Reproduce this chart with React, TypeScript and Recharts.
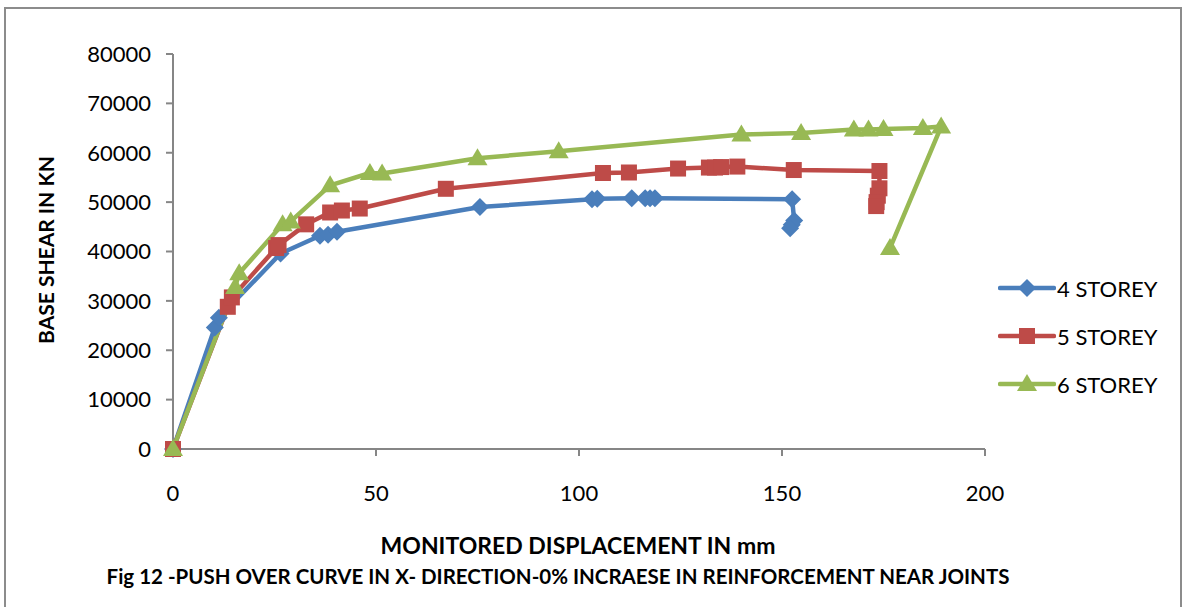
import { Line, LineChart, XAxis, YAxis } from "recharts";

// displacement (mm) and base shear (kN)
const storey4X = [0, 10.3, 11.3, 26.5, 36.2, 38.2, 40.4, 75.6, 103.2, 104.5, 113, 116.3, 117.5, 118.7, 152.5, 153, 152.4, 152];
const storey4Y = [0, 24600, 26600, 39600, 43200, 43400, 44000, 49000, 50600, 50700, 50800, 50800, 50800, 50800, 50600, 46300, 45400, 44700];

const storey5X = [0, 13.5, 14.5, 25.4, 26, 32.8, 38.7, 41.6, 46, 67.2, 105.9, 112.3, 124.4, 132, 133.5, 135, 139, 152.9, 174, 174, 173.6, 173.3, 173.2];
const storey5Y = [0, 28800, 30700, 40700, 41300, 45500, 47900, 48300, 48700, 52700, 55900, 56000, 56800, 57000, 57000, 57100, 57200, 56500, 56300, 52800, 51300, 50000, 49200];

const storey6X = [0, 15.3, 16.3, 27, 29, 38.7, 48.5, 51.5, 75, 95, 140, 154.7, 167.7, 171.3, 175, 184.7, 189.2, 176.6];
const storey6Y = [0, 32800, 35600, 45500, 46100, 53400, 55900, 55800, 58900, 60300, 63700, 64000, 64700, 64700, 64800, 65000, 65300, 40700];

const xTicks = [0, 50, 100, 150, 200];
const yTicks = [0, 10000, 20000, 30000, 40000, 50000, 60000, 70000, 80000];

const seriesNames = ["4 STOREY", "5 STOREY", "6 STOREY"];
const seriesColors = ["#4A7EBB", "#BE4B48", "#98B954"];
const seriesShapes = ["diamond", "square", "triangle"];

const toPoints = (xs: number[], ys: number[]) => xs.map((x, i) => ({ x, y: ys[i] }));
const seriesData = [
  toPoints(storey4X, storey4Y),
  toPoints(storey5X, storey5Y),
  toPoints(storey6X, storey6Y),
];

const font = "Lato, 'Open Sans', sans-serif";

function Marker({ shape, cx, cy, fill }: { shape: string; cx: number; cy: number; fill: string }) {
  if (shape === "diamond") {
    const r = 9;
    return <path d={`M${cx},${cy - r}L${cx + r},${cy}L${cx},${cy + r}L${cx - r},${cy}Z`} fill={fill} />;
  }
  if (shape === "square") {
    const s = 8;
    return <rect x={cx - s} y={cy - s} width={s * 2} height={s * 2} fill={fill} />;
  }
  return <path d={`M${cx},${cy - 10}L${cx + 10},${cy + 7}L${cx - 10},${cy + 7}Z`} fill={fill} />;
}

function makeDot(shape: string, fill: string) {
  return (props: any) => {
    const { cx, cy, index } = props;
    if (cx == null || cy == null) return <g key={index} />;
    return <Marker key={index} shape={shape} cx={cx} cy={cy} fill={fill} />;
  };
}

function LegendBox() {
  return (
    <div style={{ fontFamily: font, fontSize: 22, color: "#000" }}>
      {seriesNames.map((name, i) => (
        <div key={name} style={{ display: "flex", alignItems: "center", height: 48 }}>
          <svg width={58} height={24}>
            <line x1={2} y1={12} x2={56} y2={12} stroke={seriesColors[i]} strokeWidth={4.5} strokeLinecap="round" />
            <Marker shape={seriesShapes[i]} cx={29} cy={12} fill={seriesColors[i]} />
          </svg>
          <span style={{ marginLeft: 1 }}>{name}</span>
        </div>
      ))}
    </div>
  );
}

export default function App() {
  return (
    <div style={{ position: "fixed", left: 0, top: 0, width: 1188, height: 607, background: "#fff", overflow: "hidden" }}>
      <div
        style={{
          position: "absolute",
          left: 4,
          top: 7,
          width: 1178,
          height: 620,
          border: "2px solid #8c8c8c",
          boxSizing: "border-box",
        }}
      />
      <div style={{ position: "absolute", left: 0, top: 0 }}>
        <LineChart width={1188} height={607} margin={{ top: 54, right: 203, bottom: 110, left: 0 }}>
          <XAxis
            dataKey="x"
            type="number"
            domain={[0, 200]}
            ticks={xTicks}
            height={48}
            tickSize={7}
            tickMargin={29}
            tick={{ fill: "#000", fontSize: 22, fontFamily: font }}
            stroke="#868686"
            strokeWidth={2}
          />
          <YAxis
            dataKey="y"
            type="number"
            domain={[0, 80000]}
            ticks={yTicks}
            width={173}
            tickSize={7}
            tickMargin={15}
            tick={{ fill: "#000", fontSize: 22, fontFamily: font }}
            stroke="#868686"
            strokeWidth={2}
          />
          {seriesData.map((d, i) => (
            <Line
              key={seriesNames[i]}
              data={d}
              dataKey="y"
              name={seriesNames[i]}
              type="linear"
              stroke={seriesColors[i]}
              strokeWidth={4.5}
              strokeLinejoin="round"
              dot={makeDot(seriesShapes[i], seriesColors[i])}
              activeDot={false}
              isAnimationActive={false}
            />
          ))}
        </LineChart>
      </div>
      <div style={{ position: "absolute", left: 998, top: 264 }}>
        <LegendBox />
      </div>
      <div
        style={{
          position: "absolute",
          left: 45,
          top: 250,
          transform: "translate(-50%, -50%) rotate(-90deg)",
          fontFamily: font,
          fontWeight: 700,
          fontSize: 21,
          whiteSpace: "nowrap",
        }}
      >
        BASE SHEAR IN KN
      </div>
      <div
        style={{
          position: "absolute",
          left: 578,
          top: 545,
          transform: "translate(-50%, -50%)",
          fontFamily: font,
          fontWeight: 700,
          fontSize: 23,
          whiteSpace: "nowrap",
        }}
      >
        MONITORED DISPLACEMENT IN mm
      </div>
      <div
        style={{
          position: "absolute",
          left: 558,
          top: 576,
          transform: "translate(-50%, -50%)",
          fontFamily: font,
          fontWeight: 700,
          fontSize: 20.5,
          whiteSpace: "nowrap",
        }}
      >
        Fig 12 -PUSH OVER CURVE IN X- DIRECTION-0% INCRAESE IN REINFORCEMENT NEAR JOINTS
      </div>
    </div>
  );
}
